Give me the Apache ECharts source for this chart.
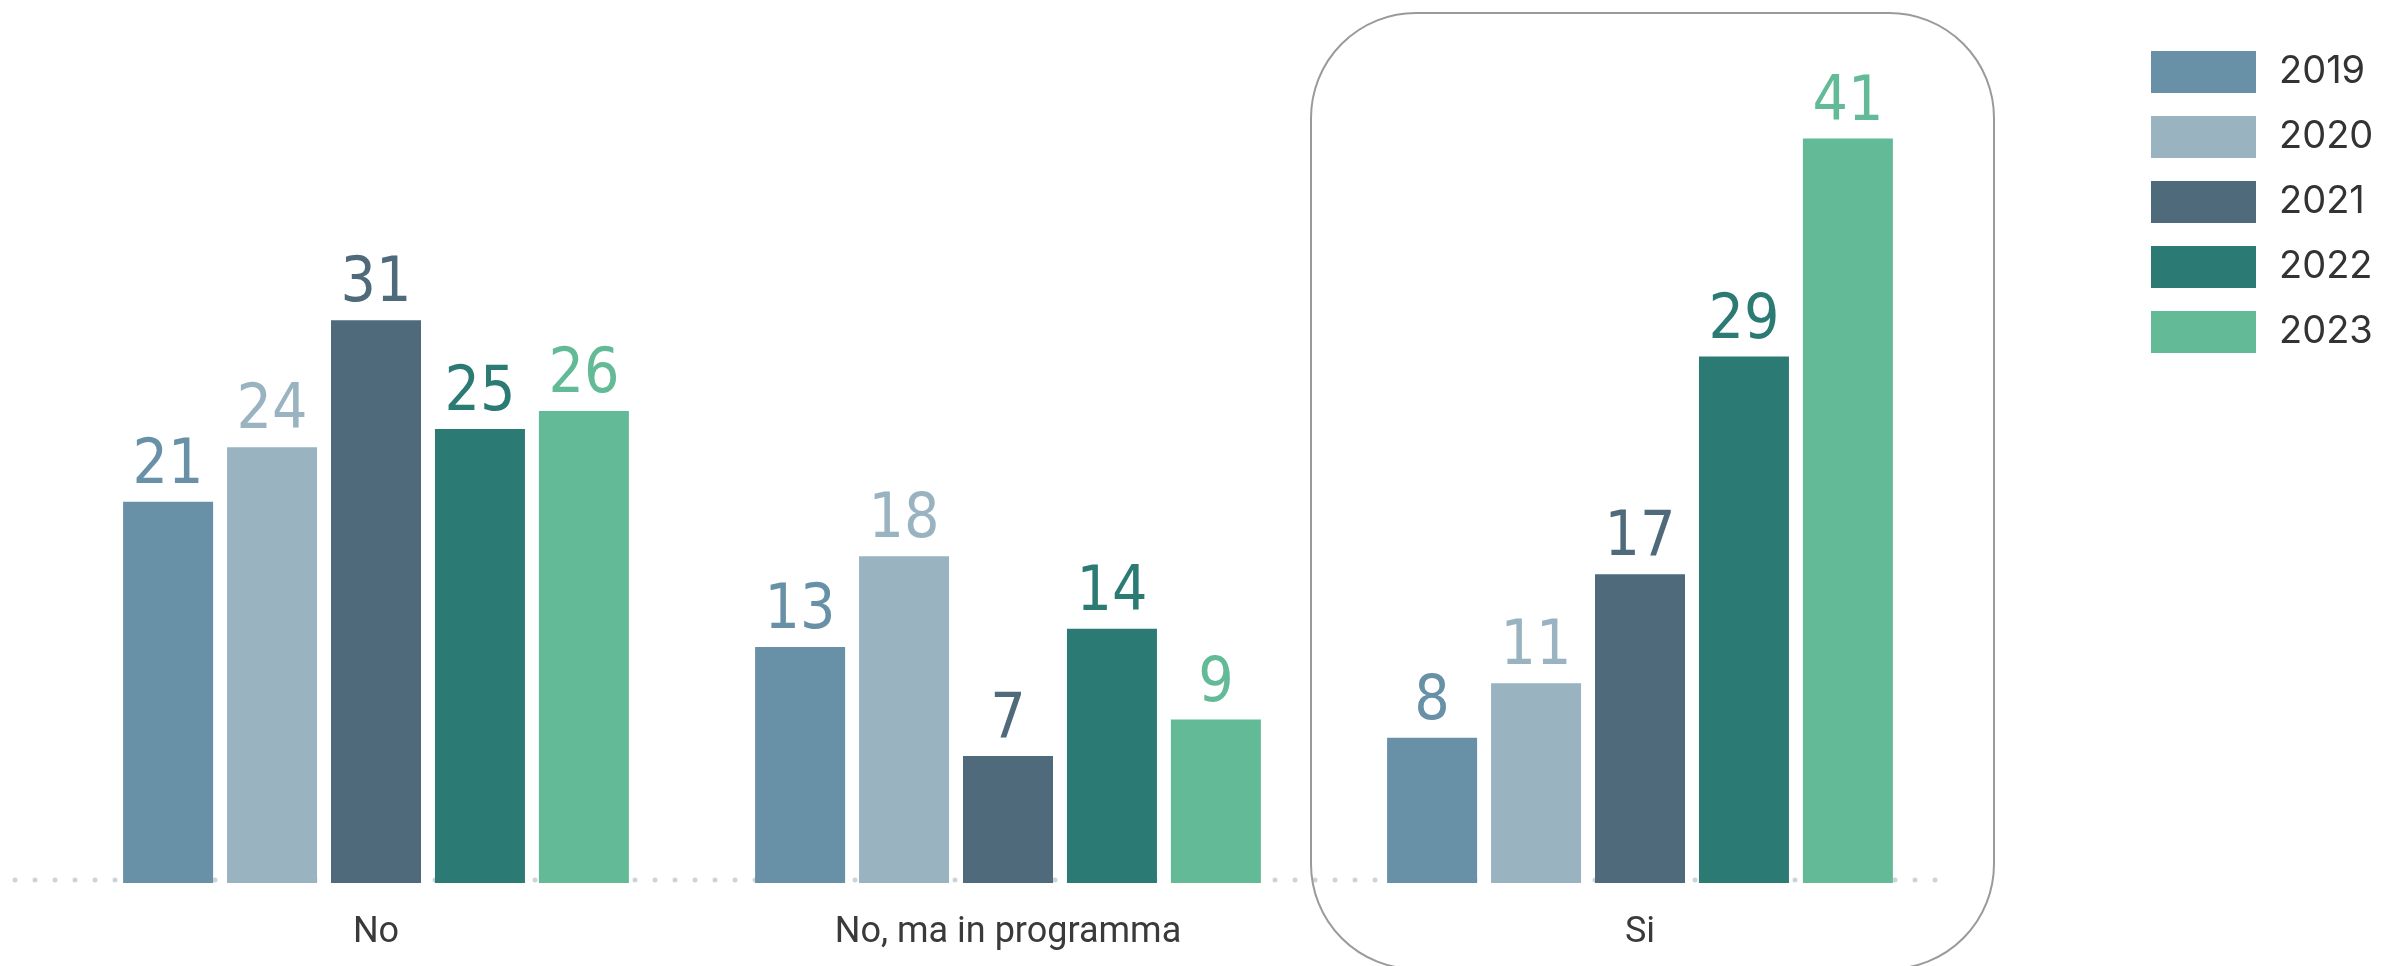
<!DOCTYPE html>
<html>
<head>
<meta charset="utf-8">
<script src="https://cdn.jsdelivr.net/npm/echarts@6/dist/echarts.min.js"></script>
<style>
html, body { margin: 0; padding: 0; background: #fff; }
#chart { width: 2386px; height: 966px; }
</style>
</head>
<body>
<div id="chart"></div>
<script>
// answers and years
const categories = ['No', 'No, ma in programma', 'Si']
const years = ['2019', '2020', '2021', '2022', '2023']

// values per year, same order as categories
const values2019 = [21, 13, 8]
const values2020 = [24, 18, 11]
const values2021 = [31, 7, 17]
const values2022 = [25, 14, 29]
const values2023 = [26, 9, 41]

const colors = ['#6890a6', '#9ab3c1', '#4e6a7b', '#2c7a74', '#62bb96']

const allValues = [values2019, values2020, values2021, values2022, values2023]

let chart = echarts.init(document.getElementById('chart'))

let series = years.map((y, i) => ({
  name: y,
  type: 'bar',
  data: allValues[i],
  barWidth: 90,
  barGap: '15.5%',
  z: 3,
  itemStyle: { color: colors[i] },
  label: {
    show: true,
    position: 'top',
    distance: 4,
    color: colors[i],
    fontFamily: "'Liberation Sans Narrow', 'DejaVu Sans Condensed', sans-serif",
    fontSize: 62,
    fontWeight: 'normal'
  }
}))

let option = {
  animation: false,
  color: colors,
  grid: {
    left: 60,
    right: 430,
    top: 66,
    bottom: 83
  },
  legend: {
    data: years,
    orient: 'vertical',
    left: 2146,
    top: 46,
    itemWidth: 105,
    itemHeight: 42,
    itemGap: 23,
    icon: 'rect',
    textStyle: {
      fontFamily: 'Inter, Roboto, sans-serif',
      fontSize: 38,
      color: '#333',
      padding: [0, 0, 0, 18]
    }
  },
  xAxis: {
    type: 'category',
    data: categories,
    axisLine: { show: false },
    axisTick: { show: false },
    axisLabel: {
      margin: 32,
      fontFamily: 'Roboto, sans-serif',
      fontSize: 36,
      color: '#3a3a3a'
    }
  },
  yAxis: {
    type: 'value',
    min: 0,
    max: 45,
    show: false,
    splitLine: { show: false }
  },
  graphic: [
    {
      type: 'line',
      z: 1,
      shape: { x1: 15, y1: 880, x2: 1938, y2: 880 },
      style: { stroke: '#c8d5dc', lineWidth: 5, lineDash: [0, 20], lineCap: 'round' }
    },
    {
      type: 'rect',
      z: 1,
      shape: { x: 1311, y: 13, width: 683, height: 956, r: 105 },
      style: { fill: 'none', stroke: '#9a9a9a', lineWidth: 2 }
    }
  ],
  series: series
}

chart.setOption(option)
</script>
</body>
</html>
